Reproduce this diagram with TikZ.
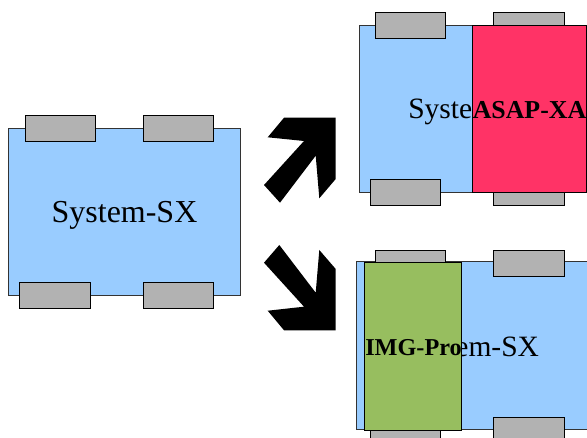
\documentclass[tikz,border=0pt]{standalone}
\usepackage{fontspec}
\setmainfont{Liberation Serif}
\definecolor{sysblue}{HTML}{99CCFF}
\definecolor{tabgray}{HTML}{B2B2B2}
\definecolor{asapred}{HTML}{FF3366}
\definecolor{imggreen}{HTML}{97BE5F}
\tikzset{
  sysbox/.style={draw=black!80,line width=0.5pt,fill=sysblue,minimum width=4.64cm,minimum height=3.35cm,inner sep=0pt},
  tabbox/.style={draw=black,line width=0.5pt,fill=tabgray,minimum width=1.41cm,minimum height=0.52cm,inner sep=0pt},
  sidebox/.style={draw=black,line width=0.5pt,inner sep=0pt},
  syslabel/.style={anchor=base,inner sep=0pt,font=\fontsize{18.2}{20}\selectfont},
  smalllabel/.style={anchor=base,inner sep=0pt,font=\fontsize{16.8}{18}\selectfont},
  sidelabel/.style={anchor=base,inner sep=0pt,font=\fontsize{14.7}{16}\selectfont\bfseries},
}

\begin{document}
\begin{tikzpicture}[x=0.02cm,y=-0.02cm]
  \clip (0,0) rectangle (587,438);
  \useasboundingbox (0,0) rectangle (587,438);
  % Left: plain system
  \node[sysbox] (sysL) at (124.8,211.7) {};
  \node[syslabel] (sysLlabel) at (124.5,223) {System-SX};
  \node[tabbox] (tabLa) at (60.2,128) {};
  \node[tabbox] (tabLb) at (178.5,128) {};
  \node[tabbox] (tabLc) at (54.7,295.5) {};
  \node[tabbox] (tabLd) at (178.5,295.5) {};
  % Arrows
  \fill (264,185) -- (280,202.7) -- (315.7,155.7) -- (319.3,198.3) -- (335.7,179) -- (335.7,117.7)
    -- (284,117.7) -- (267.7,137.3) -- (304,141) -- cycle;
  \fill (264,262.7) -- (279.3,245) -- (315.7,292.7) -- (319.3,250) -- (335.7,269) -- (335.7,330.3)
    -- (284,330.3) -- (267.7,310.7) -- (304,306.7) -- cycle;
  % Top right: with ASAP-XA
  \node[sysbox] (sysT) at (475,108.7) {};
  \node[smalllabel] (sysTlabel) at (475.5,119) {System-SX};
  \node[tabbox] (tabTa) at (410.3,25.5) {};
  \node[tabbox] (tabTb) at (529,25.5) {};
  \node[tabbox] (tabTc) at (405.3,192.5) {};
  \node[tabbox] (tabTd) at (529,192.5) {};
  \node[sidebox,fill=asapred,minimum width=2.27cm,minimum height=3.35cm] (asap) at (529.2,108.7) {};
  \node[sidelabel] (asaplabel) at (529.5,119) {ASAP-XA};
  % Bottom right: with IMG-Pro
  \node[sysbox] (sysB) at (472.8,345.5) {};
  \node[smalllabel] (sysBlabel) at (471.8,356) {System-SX};
  \node[tabbox] (tabBa) at (410.3,263) {};
  \node[tabbox] (tabBb) at (529,263) {};
  \node[tabbox] (tabBc) at (405.3,430) {};
  \node[tabbox] (tabBd) at (529,430) {};
  \node[sidebox,fill=imggreen,minimum width=1.95cm,minimum height=3.35cm] (img) at (413,346.6) {};
  \node[sidelabel,font=\fontsize{13.8}{16}\selectfont\bfseries] (imglabel) at (413.5,355.5) {IMG-Pro};
\end{tikzpicture}
\end{document}
